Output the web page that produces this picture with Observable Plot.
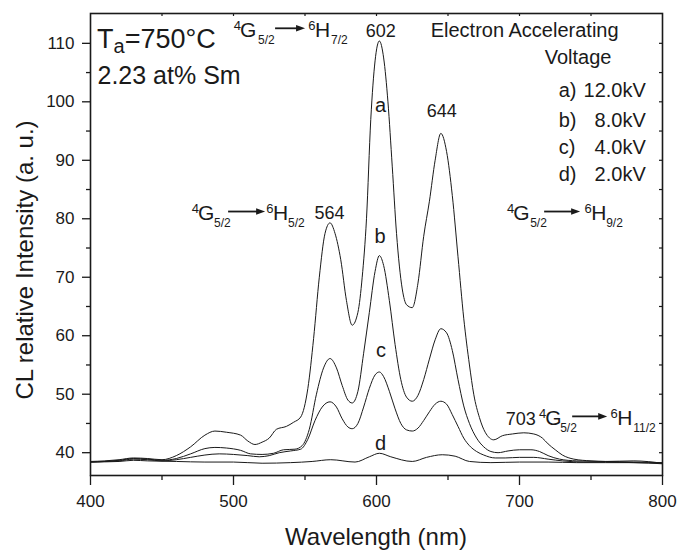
<!DOCTYPE html>
<html><head><meta charset="utf-8">
<script src="https://cdn.jsdelivr.net/npm/d3@7"></script>
<script src="https://cdn.jsdelivr.net/npm/@observablehq/plot@0.6"></script>
<style>body{margin:0;background:#fff} svg{display:block}</style>
</head><body><div id="chart"></div>
<script>
// ---------- data ----------
const aNm  = [400,410,420,430,440,450,460,470,480,487,495,505,510,515,520,525,530,537,542,547,552,556,560,564,567.5,571,575,579,583,587,590,593,596,599,602,605,608,611,614,618,621,625,629,633,637,641,645,649,653,657,661,665,668,672,676,682,688,695,703,710,716,720,725,730,738,750,760,780,800];
const aInt = [38.5,38.6,38.8,39.1,39.0,38.8,39.5,41.0,43.0,43.7,43.5,43.0,42.0,41.4,41.8,42.5,44.0,44.5,45.2,46.1,51,59.5,70,77.5,79.3,77.5,73,66,61.8,64,70,80,97,107,110.4,107.5,100,89,77.5,68,65.3,64.8,69,77,83,90,94.6,91.5,84,73.5,63,55,50,46,43.5,42.2,42.9,43.2,43.4,43.2,42.5,41.5,40.5,39.6,38.9,38.6,38.5,38.6,38.2];

const bNm  = [400,410,420,430,440,450,460,470,480,487,495,505,512,520,528,535,543,548,553,558,563,567.5,572,576,580,583,587,591,595,599,602,605,609,613,617,621,625,629,633,637,641,645,649,653,657,661,665,670,675,680,685,692,700,708,714,720,728,740,760,780,800];
const bInt = [38.4,38.5,38.7,39.0,38.9,38.7,39.0,39.8,40.7,40.9,40.8,40.4,39.8,39.7,39.9,40.5,40.6,41.2,44,50,54.5,56.1,54.5,51.5,49,48.5,50.5,57,64,71,73.7,72,66,58.5,52.5,49.5,48.8,49.8,52.5,56,59.3,61.2,60.5,57.5,52.5,48,45,42.5,41,40.2,40.0,40.3,40.5,40.5,40.2,39.5,38.9,38.6,38.5,38.4,38.3];

const cNm  = [400,410,420,430,440,450,460,470,480,490,500,510,518,525,532,540,547,552,557,562,567.5,572,576,580,583,587,591,595,599,602,605,609,613,617,621,625,629,633,637,641,645,649,653,657,661,665,670,675,683,690,700,710,720,730,745,760,780,800];
const cInt = [38.4,38.5,38.6,38.9,38.8,38.6,38.8,39.2,39.6,39.8,39.7,39.5,39.3,39.5,40.0,40.3,40.6,42.3,45.5,47.8,48.7,47.8,45.8,44.4,44.1,45,47.8,51,53.3,53.8,53,50.5,47.5,45,43.9,43.7,44.2,45.5,47,48.3,48.8,48.3,46.5,44.5,42.5,41.2,40.2,39.6,39.1,39.1,39.2,39.2,38.9,38.6,38.4,38.4,38.3,38.2];

const dNm  = [400,420,430,440,460,480,500,520,540,555,568,585,595,602,610,625,635,646,655,665,680,700,720,740,760,780,800];
const dInt = [38.4,38.5,38.7,38.6,38.5,38.4,38.4,38.2,38.3,38.5,38.8,38.4,39.3,39.9,39.3,38.5,39.2,39.65,39.4,38.5,38.3,38.4,38.4,38.3,38.3,38.3,38.1];

const xMajor = [400,500,600,700,800];
const xMinor = [450,550,650,750];
const yMajor = [40,50,60,70,80,90,100,110];
const yMinor = [45,55,65,75,85,95,105];
const xTop   = [450,500,550,600,650,700,750];
const yRight = [40,45,50,55,60,65,70,75,80,85,90,95,100,105,110];

// text annotations (positions in data units: wavelength, intensity)
const peakLabels = [
  {t:"602", nm:602.9, v:111.07},
  {t:"644", nm:645.6, v:97.36},
  {t:"564", nm:567.2, v:80.0}
];
const curveLabels = [
  {t:"a", nm:602.9, v:98.2},
  {t:"b", nm:602.5, v:75.8},
  {t:"c", nm:603.2, v:56.3},
  {t:"d", nm:602.9, v:40.4}
];
const legendTitle = [
  {t:"Electron Accelerating", nm:637.9, v:111.05},
  {t:"Voltage", nm:717.6, v:106.5}
];
const legendKeys   = ["a)","b)","c)","d)"];
const legendValues = ["12.0kV","8.0kV","4.0kV","2.0kV"];
const legendRowV   = [100.82,95.69,91.05,86.54];
const legendKeyNm = 727.4, legendValNm = 788.3;

const transitions = [
  {lower:"5/2", upper:"7/2",  nm:504.95, v:111.03, sub:18, a1:35, a2:65, h:75, hs:16},
  {lower:"5/2", upper:"5/2",  nm:475.6,  v:79.7,   sub:16, a1:30, a2:67, h:75, hs:15},
  {lower:"5/2", upper:"9/2",  nm:695.9,  v:79.7,   sub:17, a1:31, a2:67, h:78, hs:15},
  {lower:"5/2", upper:"11/2", nm:718.3,  v:44.67,  sub:15, a1:27, a2:62, h:72, hs:16}
];

// ---------- chart ----------
const FONT = "'Liberation Sans', Arial, Helvetica, sans-serif";
const W = 677, H = 556, mL = 90, mR = 15, mT = 13, mB = 81;
const frameW = W - mL - mR, frameH = H - mT - mB;
const INK = "#1a1a1a";

const series = [
  {key:"a", nm:aNm, v:aInt},
  {key:"b", nm:bNm, v:bInt},
  {key:"c", nm:cNm, v:cInt},
  {key:"d", nm:dNm, v:dInt}
];
const rows = series.flatMap(s => s.nm.map((w, i) => ({series: s.key, nm: w, v: s.v[i]})));

const chart = Plot.plot({
  width: W, height: H,
  marginLeft: mL, marginRight: mR, marginTop: mT, marginBottom: mB,
  style: {fontFamily: FONT, fontSize: "17px", color: INK, background: "#fff", overflow: "visible"},
  x: {domain: [400, 800], label: null},
  y: {domain: [36.1, 115.1], label: null},
  marks: [
    Plot.axisX(xMajor, {tickSize: 10, tickPadding: 9, label: null, fontSize: 17, strokeWidth: 1.3}),
    Plot.axisX(xMinor, {tickSize: 5, fill: "none", label: null, strokeWidth: 1.3}),
    Plot.axisY(yMajor, {tickSize: 8, tickPadding: 8, label: null, fontSize: 17, strokeWidth: 1.3}),
    Plot.axisY(yMinor, {tickSize: 4, fill: "none", label: null, strokeWidth: 1.3}),
    Plot.tickX(xTop, {x: d => d, insetBottom: frameH - 3, stroke: INK, strokeWidth: 1.2}),
    Plot.tickY(yRight, {y: d => d, insetLeft: frameW - 3, stroke: INK, strokeWidth: 1.2}),
    Plot.lineY(rows, {x: "nm", y: "v", z: "series", curve: "monotone-x", stroke: INK, strokeWidth: 1}),
    Plot.frame({stroke: INK, strokeWidth: 1.6}),
    Plot.text(peakLabels, {x: "nm", y: "v", text: "t", fontSize: 18, lineAnchor: "bottom", fill: INK}),
    Plot.text(curveLabels, {x: "nm", y: "v", text: "t", fontSize: 20, lineAnchor: "bottom", fill: INK}),
    Plot.text(legendTitle, {x: "nm", y: "v", text: "t", fontSize: 20, lineAnchor: "bottom", textAnchor: "start", fill: INK}),
    Plot.text(legendKeys, {x: () => legendKeyNm, y: (d, i) => legendRowV[i], text: d => d, fontSize: 20, lineAnchor: "bottom", textAnchor: "start", fill: INK}),
    Plot.text(legendValues, {x: () => legendValNm, y: (d, i) => legendRowV[i], text: d => d, fontSize: 20, lineAnchor: "bottom", textAnchor: "end", fill: INK}),
    Plot.text(["703"], {x: () => 690.4, y: () => 44.67, text: d => d, fontSize: 18, lineAnchor: "bottom", textAnchor: "start", fill: INK}),
    Plot.text(["2.23 at% Sm"], {x: () => 404.9, y: () => 103.07, text: d => d, fontSize: 25, lineAnchor: "bottom", textAnchor: "start", fill: INK})
  ]
});
document.getElementById("chart").appendChild(chart);

// ---------- rich-text annotations placed through Plot's scales ----------
const sx = chart.scale("x"), sy = chart.scale("y");
const svg = d3.select(chart);
const g = svg.append("g").attr("font-family", FONT).attr("fill", INK).attr("text-anchor", "start");

// T_a = 750 °C
{
  const t = g.append("text").attr("x", sx.apply(404.9)).attr("y", sy.apply(109.05)).attr("font-size", 27);
  t.append("tspan").text("T");
  t.append("tspan").attr("font-size", 20).attr("dy", 5).text("a");
  t.append("tspan").attr("dy", -5).text("=750°C");
}

for (const tr of transitions) {
  const grp = g.append("g").attr("transform", `translate(${sx.apply(tr.nm)},${sy.apply(tr.v)})`);
  grp.append("text").attr("x", 1).attr("y", -7).attr("font-size", 13).attr("text-anchor", "end").text("4");
  grp.append("text").attr("x", 0).attr("y", 0).attr("font-size", 21).text("G");
  grp.append("text").attr("x", tr.sub).attr("y", 7).attr("font-size", 12).text(tr.lower);
  grp.append("line").attr("x1", tr.a1).attr("x2", tr.a2 - 6).attr("y1", -8.5).attr("y2", -8.5)
    .attr("stroke", INK).attr("stroke-width", 1.8);
  grp.append("path").attr("d", `M${tr.a2},-8.5L${tr.a2 - 9},-11.8L${tr.a2 - 9},-5.2Z`);
  grp.append("text").attr("x", tr.h + 0.5).attr("y", -7).attr("font-size", 13).attr("text-anchor", "end").text("6");
  grp.append("text").attr("x", tr.h).attr("y", 0).attr("font-size", 21).text("H");
  grp.append("text").attr("x", tr.h + tr.hs).attr("y", 7).attr("font-size", 12).text(tr.upper);
}

// axis titles
g.append("text").attr("x", (mL + W - mR) / 2).attr("y", H - 11).attr("text-anchor", "middle")
  .attr("font-size", 24).text("Wavelength (nm)");
g.append("text").attr("transform", `translate(33,${260}) rotate(-90)`).attr("text-anchor", "middle")
  .attr("font-size", 24).text("CL relative Intensity (a. u.)");
</script></body></html>
